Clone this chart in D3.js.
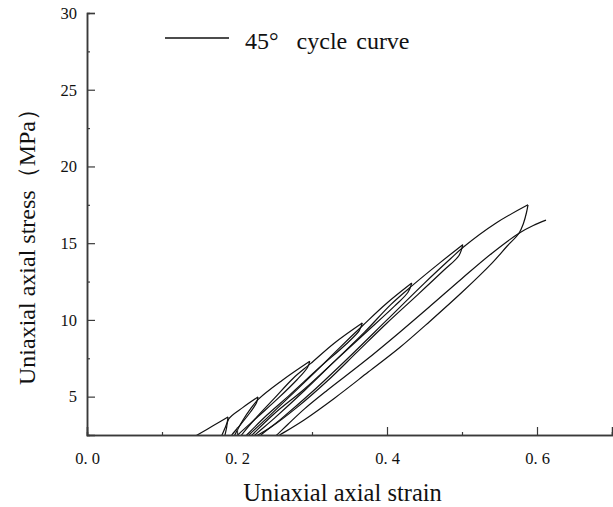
<!DOCTYPE html>
<html>
<head>
<meta charset="utf-8">
<script src="https://cdn.jsdelivr.net/npm/d3@7"></script>
<style>
  html, body { margin: 0; padding: 0; background: #fff; }
  svg { display: block; }
  text { font-family: "Liberation Serif", "Times New Roman", serif; fill: #111; }
</style>
</head>
<body>
<svg id="chart" width="613" height="507"></svg>
<script>
// Cyclic loading test, 45° specimen: [strain, stress (MPa)] branches in test order.
// Each reload climbs back to the previous peak and then follows the loading envelope.
const load1   = [[0.140,2.3],[0.147,2.5],[0.168,3.1],[0.188,3.68]];
const unload1 = [[0.188,3.68],[0.187,3.35],[0.184,2.95],[0.180,2.5],[0.178,2.3]];
const reload2 = [[0.183,2.3],[0.184,2.5],[0.186,2.95],[0.189,3.55],[0.208,4.3],[0.228,4.98]];
const unload2 = [[0.228,4.98],[0.226,4.6],[0.218,4.0],[0.205,3.2],[0.193,2.5],[0.190,2.3]];
const reload3 = [[0.195,2.3],[0.197,2.5],[0.207,3.4],[0.218,4.2],[0.229,4.85],[0.26,6.05],[0.297,7.3]];
const unload3 = [[0.297,7.3],[0.294,6.9],[0.28,6.1],[0.255,4.9],[0.228,3.7],[0.201,2.5],[0.198,2.35]];
const reload4 = [[0.203,2.3],[0.206,2.5],[0.225,3.6],[0.25,4.9],[0.275,6.2],[0.298,7.15],[0.33,8.5],[0.367,9.8]];
const unload4 = [[0.367,9.8],[0.363,9.3],[0.345,8.4],[0.31,6.9],[0.27,5.1],[0.24,3.8],[0.213,2.5],[0.209,2.3]];
const reload5 = [[0.213,2.3],[0.216,2.5],[0.24,3.6],[0.27,5.0],[0.30,6.4],[0.335,8.1],[0.368,9.65],[0.40,11.1],[0.433,12.4]];
const unload5 = [[0.433,12.4],[0.428,11.8],[0.41,10.9],[0.37,9.1],[0.33,7.3],[0.29,5.5],[0.25,3.9],[0.22,2.5],[0.216,2.3]];
const reload6 = [[0.220,2.3],[0.224,2.5],[0.25,3.6],[0.29,5.4],[0.33,7.3],[0.37,9.2],[0.405,11.0],[0.434,12.25],[0.47,13.7],[0.501,14.9]];
const unload6 = [[0.501,14.9],[0.496,14.2],[0.475,13.2],[0.44,11.6],[0.40,9.8],[0.36,7.9],[0.32,6.0],[0.28,4.3],[0.245,3.0],[0.228,2.5],[0.223,2.35]];
const reload7 = [[0.228,2.3],[0.232,2.5],[0.26,3.6],[0.30,5.3],[0.35,7.6],[0.40,10.0],[0.45,12.4],[0.485,14.0],[0.502,14.75],[0.545,16.3],[0.588,17.5]];
const unload7 = [[0.588,17.5],[0.586,17.0],[0.582,16.3],[0.576,15.65],[0.56,14.8],[0.54,13.7],[0.50,11.8],[0.457,9.9],[0.417,8.2],[0.375,6.6],[0.33,4.9],[0.29,3.5],[0.257,2.5],[0.252,2.35]];
const reload8 = [[0.248,2.3],[0.253,2.5],[0.268,3.2],[0.29,4.2],[0.32,5.4],[0.37,7.3],[0.417,9.2],[0.46,11.0],[0.50,12.7],[0.54,14.35],[0.576,15.65],[0.595,16.15],[0.612,16.5]];

const branches = [load1, unload1, reload2, unload2, reload3, unload3, reload4, unload4,
                  reload5, unload5, reload6, unload6, reload7, unload7, reload8];

const xTicksMajor = [0.0, 0.2, 0.4, 0.6];
const xTickLabels = ["0. 0", "0. 2", "0. 4", "0. 6"];
const xTicksMinor = [0.1, 0.3, 0.5, 0.7];
const yTicksMajor = [5, 10, 15, 20, 25, 30];
const yTicksMinor = [7.5, 12.5, 17.5, 22.5, 27.5];

const legendLabel = "45°  cycle curve";
const xTitle = "Uniaxial axial strain";
const yTitle = "Uniaxial axial stress（MPa）";

const svg = d3.select("#chart");
const plot = { left: 87, right: 612, top: 13, bottom: 435 };

const x = d3.scaleLinear().domain([0, 0.7]).range([plot.left, plot.right]);
const y = d3.scaleLinear().domain([2.5, 30]).range([plot.bottom, plot.top]);

const axisColor = "#3a3a3a";

svg.append("clipPath").attr("id", "plot-clip")
  .append("rect")
  .attr("x", plot.left).attr("y", plot.top)
  .attr("width", plot.right - plot.left).attr("height", plot.bottom - plot.top);

// Hysteresis branches
const line = d3.line()
  .x(d => x(d[0]))
  .y(d => y(d[1]))
  .curve(d3.curveCatmullRom.alpha(0.5));

svg.append("g").attr("clip-path", "url(#plot-clip)")
  .selectAll("path")
  .data(branches)
  .join("path")
  .attr("d", line)
  .attr("fill", "none")
  .attr("stroke", "#111")
  .attr("stroke-width", 1.2)
  .attr("stroke-linejoin", "round");

// Axes: ticks point inward
const yAxis = d3.axisLeft(y).tickValues(yTicksMajor).tickSize(-8).tickPadding(10).tickFormat(d3.format("d"));
const yMinor = d3.axisLeft(y).tickValues(yTicksMinor).tickSize(-3).tickFormat("");
const xAxis = d3.axisBottom(x).tickValues(xTicksMajor).tickSize(-8).tickPadding(17)
  .tickFormat((d, i) => xTickLabels[i]);
const xMinor = d3.axisBottom(x).tickValues(xTicksMinor).tickSize(-3).tickFormat("");

function styleAxis(g) {
  g.selectAll("path.domain").attr("stroke", axisColor).attr("stroke-width", 1.5);
  g.selectAll(".tick line").attr("stroke", axisColor).attr("stroke-width", 1.2);
  g.selectAll(".tick text").attr("fill", "#111")
    .style("font-family", "'Liberation Serif', serif").style("font-size", "16.5px");
}

svg.append("g").attr("transform", `translate(0,${plot.bottom})`).call(xMinor).call(styleAxis);
svg.append("g").attr("transform", `translate(0,${plot.bottom})`).call(xAxis).call(styleAxis);
svg.append("g").attr("transform", `translate(${plot.left},0)`).call(yMinor).call(styleAxis);
svg.append("g").attr("transform", `translate(${plot.left},0)`).call(yAxis).call(styleAxis);

// Axis titles
svg.append("text")
  .attr("x", (242 + 443) / 2).attr("y", 501)
  .attr("text-anchor", "middle")
  .style("font-size", "24.5px")
  .text(xTitle);

svg.append("text")
  .attr("transform", "translate(35,241) rotate(-90)")
  .attr("text-anchor", "middle")
  .style("font-size", "24px")
  .text(yTitle);

// Legend
const legend = svg.append("g");
legend.append("line")
  .attr("x1", 165).attr("x2", 229).attr("y1", 38).attr("y2", 38)
  .attr("stroke", "#111").attr("stroke-width", 1.5);
legend.append("text")
  .attr("x", 245).attr("y", 49)
  .attr("xml:space", "preserve")
  .style("white-space", "pre")
  .style("word-spacing", "3px")
  .style("font-size", "24px")
  .text(legendLabel);
</script>
</body>
</html>
